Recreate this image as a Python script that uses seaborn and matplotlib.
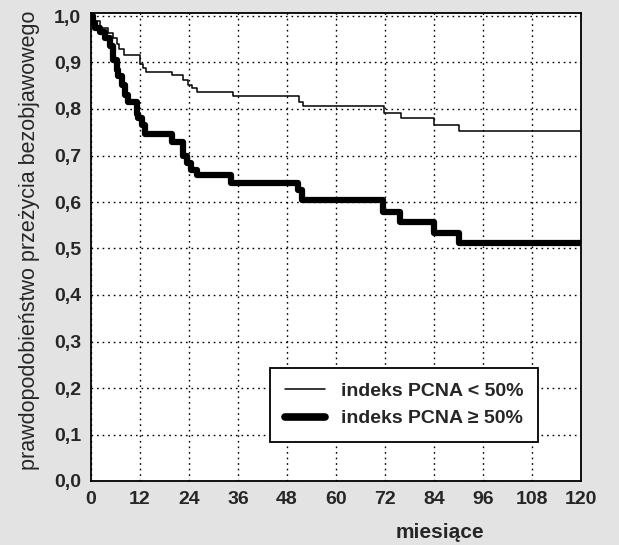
import matplotlib
matplotlib.use("Agg")
import matplotlib.pyplot as plt
import seaborn as sns
import pandas as pd

# Kaplan-Meier step curves (months, survival probability)
low_t = [0, 0.5, 2.2, 4.2, 5.4, 6.3, 6.9, 8.1, 12.0, 12.8, 13.5, 19.8, 22.6, 23.8,
         24.8, 25.9, 34.8, 51.0, 51.9, 71.8, 75.9, 83.9, 90.0, 120]
low_s = [1.0, 0.990, 0.975, 0.963, 0.952, 0.940, 0.930, 0.916, 0.897, 0.888, 0.880,
         0.873, 0.862, 0.852, 0.845, 0.837, 0.828, 0.816, 0.807, 0.792, 0.780,
         0.766, 0.753, 0.753]
high_t = [0, 0.5, 1.0, 2.2, 3.4, 4.6, 5.5, 6.3, 6.7, 7.5, 8.3, 9.1, 11.2, 11.6, 12.4,
          13.2, 19.8, 22.5, 23.5, 24.5, 25.9, 34.4, 50.8, 51.6, 71.6, 75.7, 83.9,
          90.0, 120]
high_s = [1.0, 0.985, 0.974, 0.966, 0.952, 0.935, 0.905, 0.884, 0.870, 0.852, 0.830,
          0.816, 0.790, 0.780, 0.766, 0.746, 0.730, 0.698, 0.683, 0.669, 0.658,
          0.640, 0.626, 0.604, 0.579, 0.556, 0.533, 0.512, 0.512]

labels = ["indeks PCNA < 50%", "indeks PCNA \u2265 50%"]
x_ticks = [0, 12, 24, 36, 48, 60, 72, 84, 96, 108, 120]
y_ticks = [0.0, 0.1, 0.2, 0.3, 0.4, 0.5, 0.6, 0.7, 0.8, 0.9, 1.0]
y_tick_labels = ["0,0", "0,1", "0,2", "0,3", "0,4", "0,5", "0,6", "0,7", "0,8", "0,9", "1,0"]
x_label = "miesiące"
y_label = "prawdopodobieństwo przeżycia bezobjawowego"

sns.set_theme(style="white")
plt.rcParams["font.family"] = ["Liberation Sans", "DejaVu Sans"]

bg = "#e3e3e3"
fig = plt.figure(figsize=(6.19, 5.45), dpi=100, facecolor=bg)
ax = fig.add_axes([91 / 619, 1 - 481 / 545, 490 / 619, 468 / 545])
ax.set_facecolor("white")

df_low = pd.DataFrame({"t": low_t, "s": low_s})
df_high = pd.DataFrame({"t": high_t, "s": high_s})
sns.lineplot(data=df_low, x="t", y="s", ax=ax, color="black", linewidth=1.1,
             drawstyle="steps-post", estimator=None, label=labels[0])
sns.lineplot(data=df_high, x="t", y="s", ax=ax, color="black", linewidth=4.5,
             drawstyle="steps-post", estimator=None, label=labels[1])

ax.set_xlim(0, 120)
ax.set_ylim(0, 468 / 465)
ax.set_xticks(x_ticks)
ax.set_xticklabels([str(v) for v in x_ticks], fontsize=14, fontweight="bold")
ax.set_yticks(y_ticks)
ax.set_yticklabels(y_tick_labels, fontsize=14, fontweight="bold")
ax.tick_params(axis="both", length=0, pad=7)
ax.grid(True, color="black", linestyle=(0, (1.2, 2.8)), linewidth=1.0)
for sp in ax.spines.values():
    sp.set_visible(True)
    sp.set_color("black")
    sp.set_linewidth(1.3)

ax.set_xlabel("")
ax.set_ylabel("")
fig.text(440 / 619, 1 - 532 / 545, x_label, fontsize=15, fontweight="bold",
         ha="center", va="center")
fig.text(30 / 619, 1 - 240 / 545, y_label, fontsize=15.5, rotation=90,
         ha="center", va="center")

leg = ax.legend(loc="lower left", bbox_to_anchor=((270 - 91) / 490, (481 - 442) / 468),
                borderaxespad=0, frameon=True, fancybox=False,
                prop={"weight": "bold", "size": 14},
                handlelength=2.1, handletextpad=0.8, borderpad=0.75, labelspacing=0.5)
leg.get_frame().set_edgecolor("black")
leg.get_frame().set_linewidth(1.3)
leg.get_frame().set_facecolor("white")
leg.get_frame().set_alpha(1)
leg.legend_handles[1].set_linewidth(5.5)

fig.savefig("out.png", dpi=100, facecolor=bg)
